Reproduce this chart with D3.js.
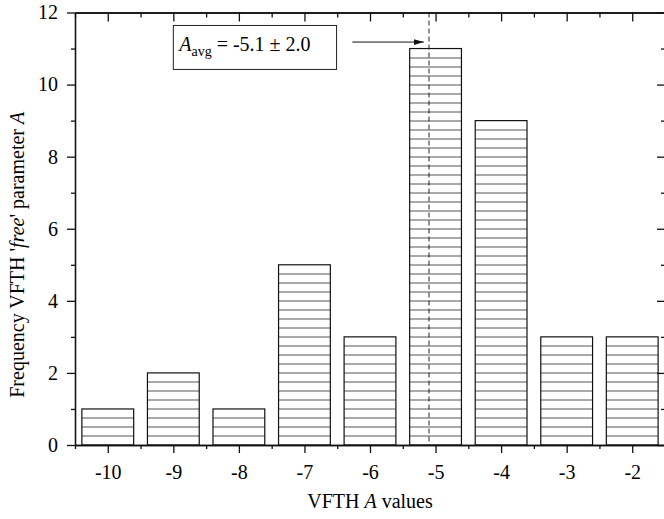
<!DOCTYPE html>
<meta charset="utf-8">
<style>
  body { margin: 0; background: #fff; }
  text { font-family: "Liberation Serif", "Times New Roman", serif; fill: #000; }
</style>
<body>
<div id="my_dataviz"></div>
<script src="https://d3js.org/d3.v7.min.js"></script>
<script>

// A values and how often each came out
var categories = [-10, -9, -8, -7, -6, -5, -4, -3, -2];
var counts = [1, 2, 1, 5, 3, 11, 9, 3, 3];

var yTicks = [0, 2, 4, 6, 8, 10, 12];
var avgA = -5.1, sdA = 2.0;

var margin = {top: 12.5, right: -1, bottom: 74, left: 75},
    width = 665 - margin.left,
    height = 445 - margin.top;

var svg = d3.select("#my_dataviz")
  .append("svg")
    .attr("width", 664)
    .attr("height", 519)
  .append("g")
    .attr("transform", "translate(" + margin.left + "," + margin.top + ")");

var x = d3.scaleLinear()
  .domain([-10.5, -1.5])
  .range([0, width]);

var y = d3.scaleLinear()
  .domain([0, 12])
  .range([height, 0]);

var halfTicks = d3.range(-10.5, -1.4, 1);
var oddTicks = d3.range(1, 12, 2);
var barW = 0.79;
var plain = function(d) { return String(d); };  // keep hyphen-minus like the original

// bars with horizontal hatching
var bars = svg.selectAll("g.bar")
  .data(categories.map(function(c, i) { return {cat: c, value: counts[i]}; }))
  .enter()
  .append("g")
    .attr("class", "bar");

bars.append("rect")
    .attr("x", function(d) { return x(d.cat - barW / 2); })
    .attr("y", function(d) { return y(d.value); })
    .attr("width", function(d) { return x(d.cat + barW / 2) - x(d.cat - barW / 2); })
    .attr("height", function(d) { return y(0) - y(d.value); })
    .attr("fill", "#fff");

bars.selectAll("line")
  .data(function(d) {
    return d3.range(0.25, d.value, 0.25).map(function(v) { return {cat: d.cat, v: v}; });
  })
  .enter()
  .append("line")
    .attr("x1", function(d) { return x(d.cat - barW / 2); })
    .attr("x2", function(d) { return x(d.cat + barW / 2); })
    .attr("y1", function(d) { return Math.round(y(d.v)) + 0.5; })
    .attr("y2", function(d) { return Math.round(y(d.v)) + 0.5; })
    .attr("stroke", "#555")
    .attr("stroke-width", 1);

bars.append("rect")
    .attr("x", function(d) { return x(d.cat - barW / 2); })
    .attr("y", function(d) { return y(d.value); })
    .attr("width", function(d) { return x(d.cat + barW / 2) - x(d.cat - barW / 2); })
    .attr("height", function(d) { return y(0) - y(d.value); })
    .attr("fill", "none")
    .attr("stroke", "#111")
    .attr("stroke-width", 1.2);

// dashed line at the mean
svg.append("line")
    .attr("x1", x(avgA)).attr("x2", x(avgA))
    .attr("y1", y(12)).attr("y2", y(0))
    .attr("stroke", "#222")
    .attr("stroke-width", 1)
    .attr("stroke-dasharray", "5,3");

// axes
function styleAxis(g) {
  g.attr("font-family", null);
  g.selectAll("path, line").attr("stroke", "#111").attr("stroke-width", 1.3);
  g.selectAll("text")
    .style("font-family", "'Liberation Serif', 'Times New Roman', serif")
    .style("font-size", "20px")
    .attr("fill", "#111");
}

svg.append("g")
  .attr("transform", "translate(0," + height + ")")
  .call(d3.axisBottom(x).tickValues(categories).tickSize(8).tickSizeOuter(0).tickPadding(12)
    .tickFormat(plain))
  .call(styleAxis);
svg.append("g")
  .attr("transform", "translate(0," + height + ")")
  .call(d3.axisBottom(x).tickValues(halfTicks).tickSize(4).tickSizeOuter(0).tickFormat(""))
  .call(styleAxis);

svg.append("g")
  .call(d3.axisLeft(y).tickValues(yTicks).tickSize(8).tickSizeOuter(0).tickPadding(9)
    .tickFormat(plain))
  .call(styleAxis);
svg.append("g")
  .call(d3.axisLeft(y).tickValues(oddTicks).tickSize(4).tickSizeOuter(0).tickFormat(""))
  .call(styleAxis);

svg.append("g")
  .call(d3.axisTop(x).tickValues(categories).tickSize(-9).tickSizeOuter(0).tickFormat(""))
  .call(styleAxis);
svg.append("g")
  .call(d3.axisTop(x).tickValues(halfTicks).tickSize(-5).tickSizeOuter(0).tickFormat(""))
  .call(styleAxis);

svg.append("g")
  .attr("transform", "translate(" + width + ",0)")
  .call(d3.axisRight(y).tickValues(yTicks).tickSize(-8).tickSizeOuter(0).tickFormat(""))
  .call(styleAxis);
svg.append("g")
  .attr("transform", "translate(" + width + ",0)")
  .call(d3.axisRight(y).tickValues(oddTicks).tickSize(-4).tickSizeOuter(0).tickFormat(""))
  .call(styleAxis);

// annotation box + arrow
svg.append("defs").append("marker")
    .attr("id", "arrow")
    .attr("viewBox", "0 0 10 6")
    .attr("refX", 10).attr("refY", 3)
    .attr("markerWidth", 10).attr("markerHeight", 6)
    .attr("markerUnits", "userSpaceOnUse")
    .attr("orient", "auto")
  .append("path")
    .attr("d", "M0,0 L10,3 L0,6 Z")
    .attr("fill", "#111");

svg.append("rect")
    .attr("x", x(-9.0))
    .attr("y", y(11.64))
    .attr("width", x(-6.51) - x(-9.0))
    .attr("height", y(10.42) - y(11.64))
    .attr("fill", "#fff")
    .attr("stroke", "#222")
    .attr("stroke-width", 1);

var ann = svg.append("text")
    .attr("x", x(-8.91))
    .attr("y", y(10.93))
    .style("font-size", "20px");
ann.append("tspan").style("font-style", "italic").text("A");
ann.append("tspan").attr("dy", 5).style("font-size", "14px").text("avg");
ann.append("tspan").attr("dy", -5).text(" = " + avgA.toFixed(1) + " \u00b1 " + sdA.toFixed(1));

svg.append("line")
    .attr("x1", x(-6.27)).attr("x2", x(-5.18))
    .attr("y1", y(11.18)).attr("y2", y(11.18))
    .attr("stroke", "#111")
    .attr("stroke-width", 1)
    .attr("marker-end", "url(#arrow)");

// axis titles
var xt = svg.append("text")
    .attr("x", x(-6))
    .attr("y", height + 63)
    .attr("text-anchor", "middle")
    .style("font-size", "20px");
xt.append("tspan").text("VFTH ");
xt.append("tspan").style("font-style", "italic").text("A");
xt.append("tspan").text(" values");

var yt = svg.append("text")
    .attr("transform", "translate(-51," + (height / 2 + 26) + ") rotate(-90)")
    .attr("text-anchor", "middle")
    .style("font-size", "20px");
yt.append("tspan").text("Frequency VFTH '");
yt.append("tspan").style("font-style", "italic").text("free");
yt.append("tspan").text("' parameter ");
yt.append("tspan").style("font-style", "italic").text("A");

</script>
